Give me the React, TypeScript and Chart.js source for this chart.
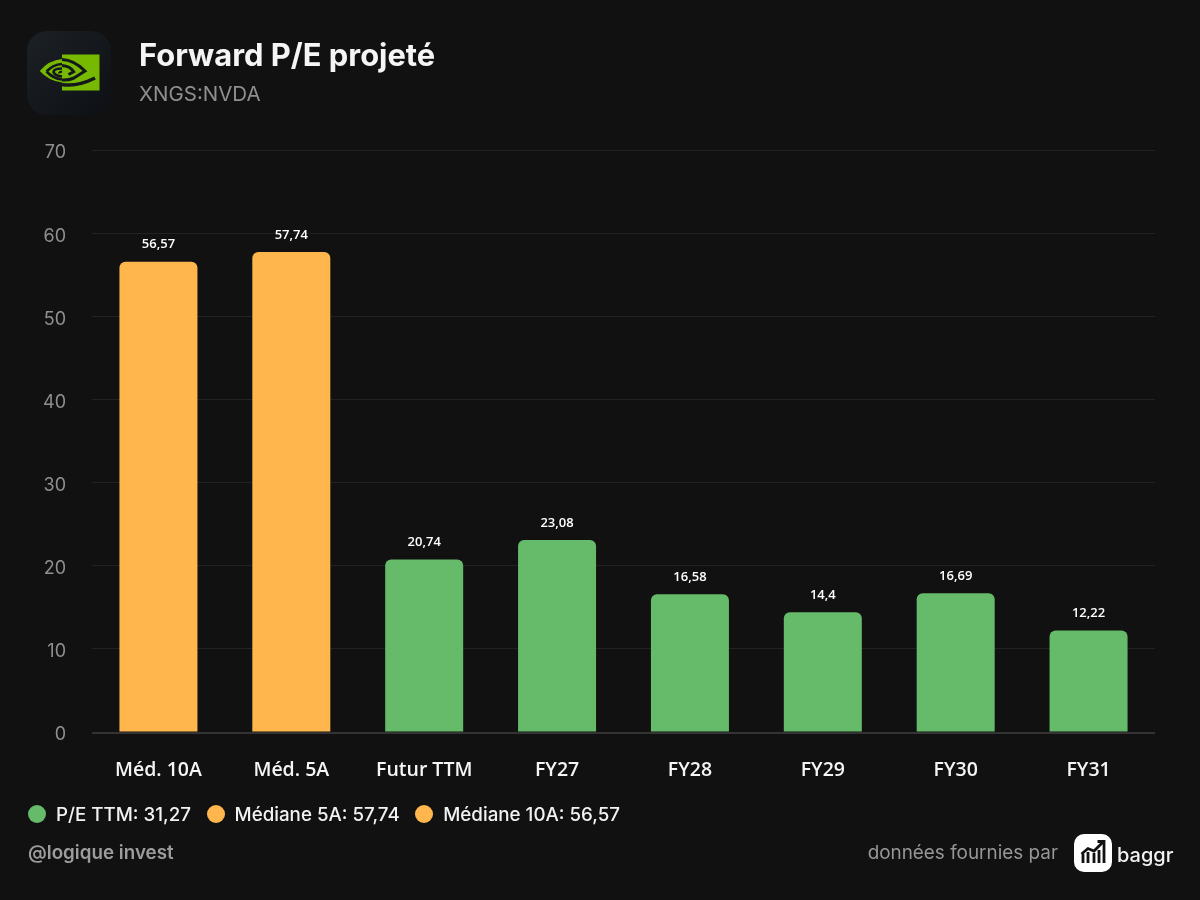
import React, { useEffect, useRef } from "react";
import { Chart, registerables } from "chart.js";

Chart.register(...registerables);

const categories = ["Méd. 10A", "Méd. 5A", "Futur TTM", "FY27", "FY28", "FY29", "FY30", "FY31"];
const values = [56.57, 57.74, 20.74, 23.08, 16.58, 14.4, 16.69, 12.22];
const legendLabels = ["P/E TTM: 31,27", "Médiane 5A: 57,74", "Médiane 10A: 56,57"];
const legendKinds = ["green", "orange", "orange"];
const titleText = "Forward P/E projeté";
const subtitleText = "XNGS:NVDA";
const handleText = "@logique invest";
const sourceText = "données fournies par";
const brandText = "baggr";

const GREEN = "#66BB6A";
const ORANGE = "#FFB74D";
const INTER = "Inter, sans-serif";
const OPEN = "'Open Sans', sans-serif";

const baseLine = {
  id: "baseLine",
  beforeDatasetsDraw(chart: any) {
    const { ctx, chartArea } = chart;
    ctx.save();
    ctx.strokeStyle = "#333333";
    ctx.lineWidth = 2;
    ctx.beginPath();
    ctx.moveTo(chartArea.left, chartArea.bottom + 1);
    ctx.lineTo(chartArea.right, chartArea.bottom + 1);
    ctx.stroke();
    ctx.restore();
  },
};

const valueLabels = {
  id: "valueLabels",
  afterDatasetsDraw(chart: any) {
    const { ctx } = chart;
    const meta = chart.getDatasetMeta(0);
    ctx.save();
    ctx.font = `600 13px ${OPEN}`;
    ctx.fillStyle = "#ffffff";
    ctx.textAlign = "center";
    ctx.textBaseline = "middle";
    meta.data.forEach((bar: any, i: number) => {
      ctx.fillText(String(values[i]).replace(".", ","), bar.x, bar.y - 17);
    });
    ctx.restore();
  },
};

function NvidiaLogo() {
  return (
    <svg width="84" height="84" viewBox="0 0 84 84" style={{ position: "absolute", left: 27, top: 31 }}>
      <defs>
        <linearGradient id="tile" x1="0" y1="0" x2="1" y2="1">
          <stop offset="0" stopColor="#1c2126" />
          <stop offset="1" stopColor="#0d0f14" />
        </linearGradient>
      </defs>
      <rect x="0" y="0" width="84" height="84" rx="20" fill="url(#tile)" />
      <rect x="35" y="23.5" width="37.5" height="36" fill="#76B900" />
      <path d="M12.7 40 Q22 29 35 28 V51.5 Q22 50 12.7 40Z" fill="#76B900" />
      <g fill="none" stroke="#14181c" strokeWidth="2.6">
        <path d="M19.5 40.5 Q26 33.5 35 33 M19.5 40.5 Q26 47.5 35 48.5" />
        <path d="M35 37.5 Q27 37.5 26.5 41 Q28 45 35 45.5" />
        <path d="M35 40.5 Q32 41 32 42.5" strokeWidth="2" />
        <path d="M35 28.5 Q47 29 58 40 L47 47 Q41 49.5 35 49" strokeWidth="3" />
        <path d="M35 34.5 Q43 35 46.7 40.7 L41.5 43.5" strokeWidth="3" />
        <path d="M35 53.5 Q50 56 68 47" strokeWidth="3.4" />
      </g>
    </svg>
  );
}

function BaggrLogo() {
  return (
    <svg width="38" height="38" viewBox="0 0 38 38" style={{ position: "absolute", left: 1074, top: 834 }}>
      <rect x="0" y="0" width="38" height="38" rx="10" fill="#ffffff" />
      <g fill="none" stroke="#111111" strokeWidth="2.8">
        <path d="M9 29V20M14 29V18M20 29V19M25 29V16M30 29V14" />
        <path d="M7.5 20L14 14.5L20 17L29 8" />
        <path d="M23.5 7.5H30V14" />
      </g>
    </svg>
  );
}

function Txt(props: { x?: number; right?: number; y: number; size: number; weight: number; color: string; font?: string; children: React.ReactNode }) {
  const { x, right, y, size, weight, color, font, children } = props;
  return (
    <div
      style={{
        position: "absolute",
        left: x,
        right,
        top: y - size,
        height: size * 2,
        lineHeight: `${size * 2}px`,
        fontFamily: font || INTER,
        fontSize: size,
        fontWeight: weight,
        color,
        whiteSpace: "nowrap",
      }}
    >
      {children}
    </div>
  );
}

export default function App() {
  const ref = useRef<HTMLCanvasElement | null>(null);

  useEffect(() => {
    document.body.style.margin = "0";
    document.body.style.background = "#111111";
    const chart = new Chart(ref.current as HTMLCanvasElement, {
      type: "bar",
      data: {
        labels: categories,
        datasets: [
          {
            data: values,
            backgroundColor: categories.map((c) => (c.startsWith("Méd") ? ORANGE : GREEN)),
            borderRadius: { topLeft: 6, topRight: 6, bottomLeft: 0, bottomRight: 0 },
            borderSkipped: false,
            categoryPercentage: 1,
            barPercentage: 0.587,
          },
        ],
      },
      options: {
        responsive: false,
        animation: false,
        devicePixelRatio: 1,
        layout: { padding: { top: 150, right: 45, bottom: 118, left: 0 } },
        plugins: { legend: { display: false }, title: { display: false }, tooltip: { enabled: false } },
        scales: {
          x: {
            grid: { display: false },
            border: { display: false },
            ticks: {
              color: "#f5f5f5",
              font: { family: OPEN, size: 19.5, weight: 600 },
              padding: 19,
              maxRotation: 0,
              autoSkip: false,
            },
            afterFit: (s: any) => { s.height = 50; },
          },
          y: {
            min: 0,
            max: 70,
            grid: { color: (c: any) => (c.tick && c.tick.value === 0 ? "transparent" : "#222222"), lineWidth: 1, drawTicks: false },
            border: { display: false },
            ticks: {
              stepSize: 10,
              color: "#8f8f8f",
              font: { family: INTER, size: 18, weight: 400 },
              padding: 26,
              labelOffset: 3,
            },
            afterFit: (s: any) => { s.width = 92; },
          },
        },
      },
      plugins: [baseLine, valueLabels],
    } as any);
    return () => chart.destroy();
  }, []);

  return (
    <div style={{ position: "relative", width: 1200, height: 900, background: "#111111", overflow: "hidden" }}>
      <canvas ref={ref} width={1200} height={900} style={{ position: "absolute", left: 0, top: 0, width: 1200, height: 900 }} />
      <NvidiaLogo />
      <Txt x={139} y={55} size={30.9} weight={700} color="#f5f5f5">{titleText}</Txt>
      <Txt x={139} y={93} size={20.5} weight={400} color="#8f8f8f">{subtitleText}</Txt>
      <div
        style={{
          position: "absolute",
          left: 28,
          top: 798,
          height: 32,
          display: "flex",
          alignItems: "center",
          fontFamily: INTER,
          fontSize: 18.75,
          fontWeight: 500,
          color: "#f2f2f2",
          whiteSpace: "nowrap",
        }}
      >
        {legendLabels.map((label, i) => (
          <span key={label} style={{ display: "flex", alignItems: "center", marginRight: 15.5 }}>
            <span
              style={{
                width: 18,
                height: 18,
                borderRadius: 9,
                marginRight: 10,
                background: legendKinds[i] === "green" ? GREEN : ORANGE,
              }}
            />
            {label}
          </span>
        ))}
      </div>
      <Txt x={28} y={853} size={18.8} weight={600} color="#9c9c9c">{handleText}</Txt>
      <Txt right={142} y={853} size={18.9} weight={400} color="#969696">{sourceText}</Txt>
      <BaggrLogo />
      <Txt x={1117} y={855} size={20} weight={500} color="#f2f2f2">{brandText}</Txt>
    </div>
  );
}
